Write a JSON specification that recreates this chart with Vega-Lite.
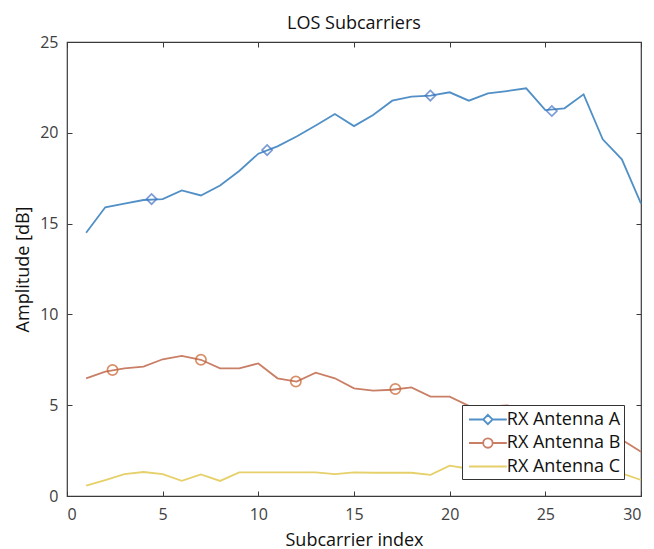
{
  "$schema": "https://vega.github.io/schema/vega-lite/v6.json",
  "autosize": {"type": "none"},
  "width": 574,
  "height": 454,
  "padding": {"left": 67, "top": 42, "right": 13, "bottom": 53},
  "background": "white",
  "title": {"text": "LOS Subcarriers", "fontSize": 18, "font": "Open Sans", "fontWeight": "normal", "color": "#111", "offset": 1},
  "config": {
    "view": {"stroke": "#3a3a3a", "strokeWidth": 1.2},
    "axis": {
      "domain": false,
      "grid": false,
      "tickSize": -5,
      "tickColor": "#3a3a3a",
      "tickWidth": 1,
      "labelFont": "Open Sans",
      "labelFontSize": 16,
      "labelColor": "#404040",
      "titleFont": "Open Sans",
      "titleFontSize": 18,
      "titleFontWeight": "normal",
      "titleColor": "#111"
    },
    "legend": {
      "orient": "bottom-right",
      "offset": 17,
      "fillColor": "white",
      "strokeColor": "#333",
      "padding": 3,
      "symbolSize": 441,
      "symbolStrokeWidth": 1.8,
      "symbolOffset": 19.8,
      "labelOffset": -1,
      "labelFont": "Open Sans",
      "labelFontSize": 18,
      "labelColor": "#111",
      "rowPadding": 2.5
    }
  },
  "datasets": {
    "lines": [
      {"x": 1, "y": 14.5, "s": "RX Antenna A"}, {"x": 2, "y": 15.9, "s": "RX Antenna A"}, {"x": 3, "y": 16.1, "s": "RX Antenna A"}, {"x": 4, "y": 16.3, "s": "RX Antenna A"}, {"x": 5, "y": 16.35, "s": "RX Antenna A"}, {"x": 6, "y": 16.83, "s": "RX Antenna A"}, {"x": 7, "y": 16.55, "s": "RX Antenna A"}, {"x": 8, "y": 17.1, "s": "RX Antenna A"}, {"x": 9, "y": 17.9, "s": "RX Antenna A"}, {"x": 10, "y": 18.85, "s": "RX Antenna A"}, {"x": 11, "y": 19.25, "s": "RX Antenna A"}, {"x": 12, "y": 19.8, "s": "RX Antenna A"}, {"x": 13, "y": 20.4, "s": "RX Antenna A"}, {"x": 14, "y": 21.03, "s": "RX Antenna A"}, {"x": 15, "y": 20.37, "s": "RX Antenna A"}, {"x": 16, "y": 20.98, "s": "RX Antenna A"}, {"x": 17, "y": 21.77, "s": "RX Antenna A"}, {"x": 18, "y": 21.99, "s": "RX Antenna A"}, {"x": 19, "y": 22.05, "s": "RX Antenna A"}, {"x": 20, "y": 22.23, "s": "RX Antenna A"}, {"x": 21, "y": 21.77, "s": "RX Antenna A"}, {"x": 22, "y": 22.17, "s": "RX Antenna A"}, {"x": 23, "y": 22.3, "s": "RX Antenna A"}, {"x": 24, "y": 22.45, "s": "RX Antenna A"}, {"x": 25, "y": 21.25, "s": "RX Antenna A"}, {"x": 26, "y": 21.35, "s": "RX Antenna A"}, {"x": 27, "y": 22.12, "s": "RX Antenna A"}, {"x": 28, "y": 19.64, "s": "RX Antenna A"}, {"x": 29, "y": 18.54, "s": "RX Antenna A"}, {"x": 30, "y": 16.1, "s": "RX Antenna A"},
      {"x": 1, "y": 6.48, "s": "RX Antenna B"}, {"x": 2, "y": 6.85, "s": "RX Antenna B"}, {"x": 3, "y": 7.03, "s": "RX Antenna B"}, {"x": 4, "y": 7.12, "s": "RX Antenna B"}, {"x": 5, "y": 7.53, "s": "RX Antenna B"}, {"x": 6, "y": 7.71, "s": "RX Antenna B"}, {"x": 7, "y": 7.5, "s": "RX Antenna B"}, {"x": 8, "y": 7.03, "s": "RX Antenna B"}, {"x": 9, "y": 7.03, "s": "RX Antenna B"}, {"x": 10, "y": 7.3, "s": "RX Antenna B"}, {"x": 11, "y": 6.48, "s": "RX Antenna B"}, {"x": 12, "y": 6.3, "s": "RX Antenna B"}, {"x": 13, "y": 6.79, "s": "RX Antenna B"}, {"x": 14, "y": 6.48, "s": "RX Antenna B"}, {"x": 15, "y": 5.93, "s": "RX Antenna B"}, {"x": 16, "y": 5.8, "s": "RX Antenna B"}, {"x": 17, "y": 5.85, "s": "RX Antenna B"}, {"x": 18, "y": 5.98, "s": "RX Antenna B"}, {"x": 19, "y": 5.47, "s": "RX Antenna B"}, {"x": 20, "y": 5.47, "s": "RX Antenna B"}, {"x": 21, "y": 4.96, "s": "RX Antenna B"}, {"x": 22, "y": 4.92, "s": "RX Antenna B"}, {"x": 23, "y": 4.99, "s": "RX Antenna B"}, {"x": 24, "y": 4.8, "s": "RX Antenna B"}, {"x": 25, "y": 4.6, "s": "RX Antenna B"}, {"x": 26, "y": 4.3, "s": "RX Antenna B"}, {"x": 27, "y": 4.0, "s": "RX Antenna B"}, {"x": 28, "y": 3.6, "s": "RX Antenna B"}, {"x": 29, "y": 3.1, "s": "RX Antenna B"}, {"x": 30, "y": 2.44, "s": "RX Antenna B"},
      {"x": 1, "y": 0.57, "s": "RX Antenna C"}, {"x": 2, "y": 0.88, "s": "RX Antenna C"}, {"x": 3, "y": 1.21, "s": "RX Antenna C"}, {"x": 4, "y": 1.32, "s": "RX Antenna C"}, {"x": 5, "y": 1.21, "s": "RX Antenna C"}, {"x": 6, "y": 0.84, "s": "RX Antenna C"}, {"x": 7, "y": 1.19, "s": "RX Antenna C"}, {"x": 8, "y": 0.83, "s": "RX Antenna C"}, {"x": 9, "y": 1.3, "s": "RX Antenna C"}, {"x": 10, "y": 1.3, "s": "RX Antenna C"}, {"x": 11, "y": 1.3, "s": "RX Antenna C"}, {"x": 12, "y": 1.3, "s": "RX Antenna C"}, {"x": 13, "y": 1.3, "s": "RX Antenna C"}, {"x": 14, "y": 1.21, "s": "RX Antenna C"}, {"x": 15, "y": 1.3, "s": "RX Antenna C"}, {"x": 16, "y": 1.28, "s": "RX Antenna C"}, {"x": 17, "y": 1.28, "s": "RX Antenna C"}, {"x": 18, "y": 1.28, "s": "RX Antenna C"}, {"x": 19, "y": 1.16, "s": "RX Antenna C"}, {"x": 20, "y": 1.67, "s": "RX Antenna C"}, {"x": 21, "y": 1.5, "s": "RX Antenna C"}, {"x": 22, "y": 1.4, "s": "RX Antenna C"}, {"x": 23, "y": 1.4, "s": "RX Antenna C"}, {"x": 24, "y": 1.4, "s": "RX Antenna C"}, {"x": 25, "y": 1.4, "s": "RX Antenna C"}, {"x": 26, "y": 1.4, "s": "RX Antenna C"}, {"x": 27, "y": 1.4, "s": "RX Antenna C"}, {"x": 28, "y": 1.4, "s": "RX Antenna C"}, {"x": 29, "y": 1.25, "s": "RX Antenna C"}, {"x": 30, "y": 0.88, "s": "RX Antenna C"}
    ],
    "markers": [
      {"x": 4.42, "y": 16.35, "s": "RX Antenna A"}, {"x": 10.46, "y": 19.05, "s": "RX Antenna A"}, {"x": 18.99, "y": 22.05, "s": "RX Antenna A"}, {"x": 25.34, "y": 21.2, "s": "RX Antenna A"},
      {"x": 2.38, "y": 6.94, "s": "RX Antenna B"}, {"x": 7.0, "y": 7.5, "s": "RX Antenna B"}, {"x": 11.96, "y": 6.31, "s": "RX Antenna B"}, {"x": 17.16, "y": 5.89, "s": "RX Antenna B"}
    ]
  },
  "layer": [
    {
      "data": {"name": "lines"},
      "mark": {"type": "line", "strokeWidth": 1.8},
      "encoding": {
        "x": {"field": "x", "type": "quantitative", "scale": {"domain": [0, 30], "nice": false}, "axis": {"values": [0, 5, 10, 15, 20, 25, 30], "title": "Subcarrier index", "labelPadding": 15, "titlePadding": 9}},
        "y": {"field": "y", "type": "quantitative", "scale": {"domain": [0, 25], "nice": false}, "axis": {"values": [0, 5, 10, 15, 20, 25], "title": "Amplitude [dB]", "labelPadding": 14, "titlePadding": 7}},
        "color": {
          "field": "s", "type": "nominal",
          "scale": {"domain": ["RX Antenna A", "RX Antenna B", "RX Antenna C"], "range": ["#5190c6", "#c97f66", "#e6d06a"]},
          "legend": {
            "title": null,
            "encode": {
              "symbols": {
                "update": {
                  "shape": {"signal": "datum.value === 'RX Antenna A' ? 'M-2.6,0H-1.25M-0.35,0H1M-0.8,-0.45L-0.35,0L-0.8,0.45L-1.25,0Z' : datum.value === 'RX Antenna B' ? 'M-2.6,0H-1.25M-0.35,0H1M-1.25,0A0.45,0.45 0 1,1 -0.35,0A0.45,0.45 0 1,1 -1.25,0' : 'M-2.6,0H1'"}
                }
              }
            }
          }
        }
      }
    },
    {
      "data": {"name": "markers"},
      "mark": {"type": "point", "filled": false, "strokeWidth": 1.7, "size": 105},
      "encoding": {
        "x": {"field": "x", "type": "quantitative", "axis": {"orient": "top", "values": [0, 5, 10, 15, 20, 25, 30], "labels": false, "title": null}},
        "y": {"field": "y", "type": "quantitative", "axis": {"orient": "right", "values": [0, 5, 10, 15, 20, 25], "labels": false, "title": null}},
        "color": {"field": "s", "type": "nominal", "scale": {"domain": ["RX Antenna A", "RX Antenna B"], "range": ["#4472c4", "#c8622e"]}, "legend": null},
        "shape": {"field": "s", "type": "nominal", "scale": {"domain": ["RX Antenna A", "RX Antenna B"], "range": ["diamond", "circle"]}, "legend": null}
      }
    }
  ],
  "resolve": {"scale": {"color": "independent", "shape": "independent"}, "axis": {"x": "independent", "y": "independent"}}
}
